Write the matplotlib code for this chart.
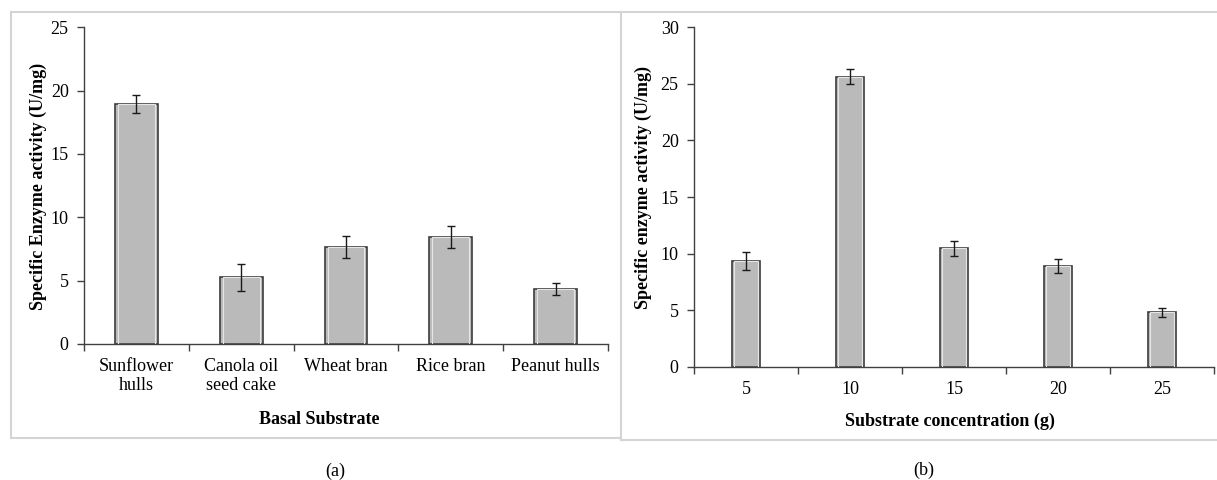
import matplotlib
matplotlib.use("Agg")
import matplotlib.pyplot as plt
from matplotlib.lines import Line2D
import numpy as np

plt.rcParams['font.family'] = ['Liberation Serif', 'DejaVu Serif']

# panel (a)
substrates = ['Sunflower\nhulls', 'Canola oil\nseed cake', 'Wheat bran', 'Rice bran', 'Peanut hulls']
activity_a = [18.95, 5.25, 7.67, 8.44, 4.35]
err_a = [0.7, 1.08, 0.85, 0.9, 0.5]

# panel (b)
concentrations = ['5', '10', '15', '20', '25']
activity_b = [9.35, 25.65, 10.45, 8.9, 4.8]
err_b = [0.78, 0.7, 0.7, 0.66, 0.43]

W, H = 1217, 480
fig = plt.figure(figsize=(W / 100, H / 100), dpi=100)

BAR_FACE = '#bababa'
BAR_EDGE = '#3c3c3c'
SPINE = '#404040'
FS = 13


def px_axes(x0, x1, ytop, ybot):
    return fig.add_axes([x0 / W, 1 - ybot / H, (x1 - x0) / W, (ybot - ytop) / H])


def draw_panel(ax, labels, vals, errs, width, ymax, xlabel, ylabel, xl_pos, yl_pos):
    x = np.arange(len(vals))
    ax.bar(x, vals, width=width, color=BAR_FACE, edgecolor=BAR_EDGE, linewidth=1.2, zorder=2)
    # light inner bevel line
    ax.bar(x, vals, width=width * 0.86, color='none', edgecolor='#e6e6e6', linewidth=0.8, zorder=3)
    ax.errorbar(x, vals, yerr=errs, fmt='none', ecolor='#1a1a1a', elinewidth=1,
                capsize=3, capthick=1, zorder=4)
    ax.set_xlim(-0.5, len(vals) - 0.5)
    ax.set_ylim(0, ymax)
    ax.set_yticks(np.arange(0, ymax + 1, 5))
    ax.set_xticks(np.arange(-0.5, len(vals)), labels=[''] * (len(vals) + 1))
    ax.set_xticks(x, labels=labels, minor=True)
    ax.tick_params(axis='x', which='major', direction='out', length=5, width=1, color=SPINE)
    ax.tick_params(axis='x', which='minor', length=0, pad=10, labelsize=FS)
    ax.tick_params(axis='y', direction='out', length=5, width=1, color=SPINE, pad=6, labelsize=FS)
    for s in ['top', 'right']:
        ax.spines[s].set_visible(False)
    for s in ['left', 'bottom']:
        ax.spines[s].set_color(SPINE)
        ax.spines[s].set_linewidth(1)
    ax.set_xlabel(xlabel, fontsize=FS, fontweight='bold', va='center')
    ax.xaxis.set_label_coords(*xl_pos)
    ax.set_ylabel(ylabel, fontsize=FS, fontweight='bold', va='center')
    ax.yaxis.set_label_coords(*yl_pos)


ax1 = px_axes(84, 608, 27.3, 344)
draw_panel(ax1, substrates, activity_a, err_a, 0.41, 25,
           'Basal Substrate', 'Specific Enzyme activity (U/mg)',
           (0.448, -0.237), (-0.088, 0.496))

ax2 = px_axes(694, 1214, 27.3, 366.7)
draw_panel(ax2, concentrations, activity_b, err_b, 0.27, 30,
           'Substrate concentration (g)', 'Specific enzyme activity (U/mg)',
           (0.492, -0.16), (-0.098, 0.528))

fig.text(335 / W, 1 - 471 / H, '(a)', ha='center', va='center', fontsize=FS)
fig.text(924 / W, 1 - 470 / H, '(b)', ha='center', va='center', fontsize=FS)

# light panel frames
frame = '#d4d4d4'
segs = [((10.5, 11.7), (1217, 11.7)),
        ((10.5, 11.7), (10.5, 438)),
        ((621, 11.7), (621, 440)),
        ((10.5, 438), (621, 438)),
        ((621, 440), (1217, 440))]
for (xa, ya), (xb, yb) in segs:
    fig.add_artist(Line2D([xa / W, xb / W], [1 - ya / H, 1 - yb / H],
                          transform=fig.transFigure, color=frame, linewidth=1.5))

fig.savefig('out.png', dpi=100)
